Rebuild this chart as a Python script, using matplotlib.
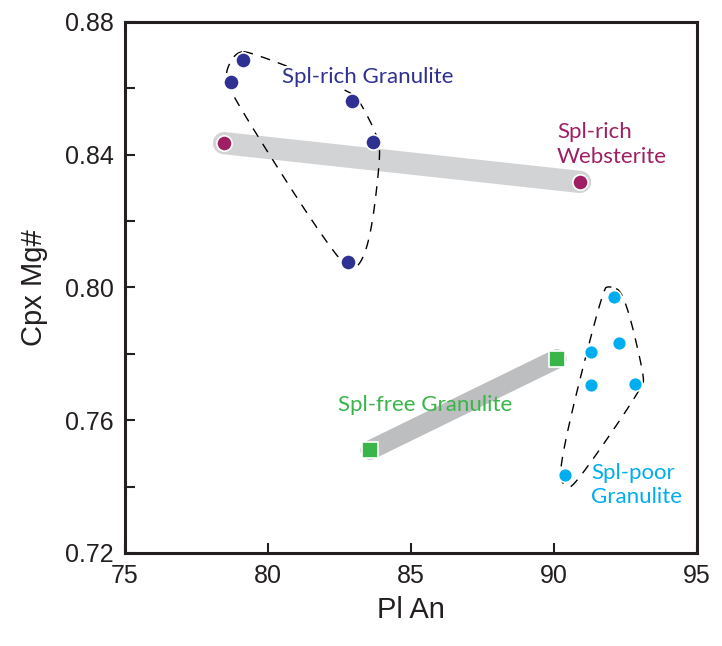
import numpy as np
import matplotlib
matplotlib.use("Agg")
import matplotlib.pyplot as plt

# data
rich_gran_an = [79.13, 78.71, 82.94, 83.67, 82.80]
rich_gran_mg = [0.8686, 0.8619, 0.8562, 0.8438, 0.8077]

webst_an = [78.46, 90.91]
webst_mg = [0.8435, 0.8318]

free_gran_an = [83.57, 90.10]
free_gran_mg = [0.7510, 0.7785]

poor_gran_an = [92.10, 91.29, 92.27, 91.29, 92.83, 90.38]
poor_gran_mg = [0.7971, 0.7806, 0.7833, 0.7706, 0.7709, 0.7435]

# hand-drawn envelopes (closed)
rich_env_an = [78.90, 79.45, 82.94, 83.25, 83.90, 83.90, 83.60, 83.20, 82.65, 78.60, 78.50]
rich_env_mg = [0.8712, 0.8708, 0.8590, 0.8555, 0.8444, 0.8369, 0.8158, 0.8060, 0.8050, 0.8595, 0.8650]
poor_env_an = [91.95, 92.45, 93.15, 93.10, 90.75, 90.40, 90.10, 91.70]
poor_env_mg = [0.8005, 0.7985, 0.7736, 0.7700, 0.7405, 0.7395, 0.7445, 0.7995]

navy = "#2E3192"
plum = "#9E1F63"
green = "#39B54A"
cyan = "#00AEEF"


def chaikin(xs, ys, n=3):
    p = np.column_stack([xs, ys])
    for _ in range(n):
        q = np.roll(p, -1, axis=0)
        p = np.vstack([0.75 * p + 0.25 * q, 0.25 * p + 0.75 * q])
        p = p.reshape(2, -1, 2).transpose(1, 0, 2).reshape(-1, 2)
    p = np.vstack([p, p[:1]])
    return p[:, 0], p[:, 1]


fig = plt.figure(figsize=(7.22, 6.46), dpi=100)
ax = fig.add_axes([0.1731, 0.144, 0.7923, 0.822])

tickfont = ["Liberation Sans", "DejaVu Sans"]
txtfont = ["Lato", "DejaVu Sans"]

# grey bands
ax.plot(webst_an, webst_mg, color="#D1D3D4", lw=16, solid_capstyle="round", zorder=1)
ax.plot(free_gran_an, free_gran_mg, color="#BCBEC0", lw=14, solid_capstyle="round", zorder=1)

# envelopes
ex, ey = chaikin(rich_env_an, rich_env_mg)
ax.plot(ex, ey, color="black", lw=1, ls=(0, (7, 6)), zorder=2)
ex, ey = chaikin(poor_env_an, poor_env_mg)
ax.plot(ex, ey, color="black", lw=1, ls=(0, (7, 6)), zorder=2)

ax.plot(rich_gran_an, rich_gran_mg, "o", ms=11, color=navy, mec="white", mew=1.2, zorder=3)
ax.plot(webst_an, webst_mg, "o", ms=11, color=plum, mec="white", mew=1.2, zorder=3)
ax.plot(free_gran_an, free_gran_mg, "s", ms=12, color=green, mec="white", mew=1.2, zorder=3)
ax.plot(poor_gran_an, poor_gran_mg, "o", ms=10, color=cyan, mec="white", mew=1.2, zorder=3)

ax.text(80.5, 0.8634, "Spl-rich Granulite", color=navy, fontsize=16, family=txtfont,
        va="center", ha="left", zorder=4,
        bbox=dict(facecolor="white", edgecolor="none", pad=1))
ax.text(90.1, 0.8430, "Spl-rich\nWebsterite", color=plum, fontsize=16, family=txtfont,
        va="center", ha="left", linespacing=1.3, zorder=4)
ax.text(82.45, 0.7646, "Spl-free Granulite", color=green, fontsize=16, family=txtfont,
        va="center", ha="left", zorder=4)
ax.text(91.3, 0.7405, "Spl-poor\nGranulite", color=cyan, fontsize=16, family=txtfont,
        va="center", ha="left", linespacing=1.3, zorder=4,
        bbox=dict(facecolor="white", edgecolor="none", pad=1))

ax.set_xlim(75, 95)
ax.set_ylim(0.72, 0.88)
ax.set_xticks([75, 80, 85, 90, 95])
ax.set_yticks([0.72, 0.76, 0.80, 0.84, 0.88])
ax.set_yticklabels(["0.72", "0.76", "0.80", "0.84", "0.88"])
ax.set_yticks([0.74, 0.78, 0.82, 0.86], minor=True)
ax.tick_params(which="both", direction="in", length=7, width=1.5, pad=8,
               labelsize=18, colors="#231F20")
for lab in ax.get_xticklabels() + ax.get_yticklabels():
    lab.set_family(tickfont)
for s in ax.spines.values():
    s.set_linewidth(2.2)
    s.set_color("#231F20")

ax.set_xlabel("Pl An", fontsize=21, family=tickfont, color="#231F20", labelpad=6)
ax.set_ylabel("Cpx Mg#", fontsize=21, family=tickfont, color="#231F20", labelpad=12)

fig.savefig("out.png", dpi=100)
